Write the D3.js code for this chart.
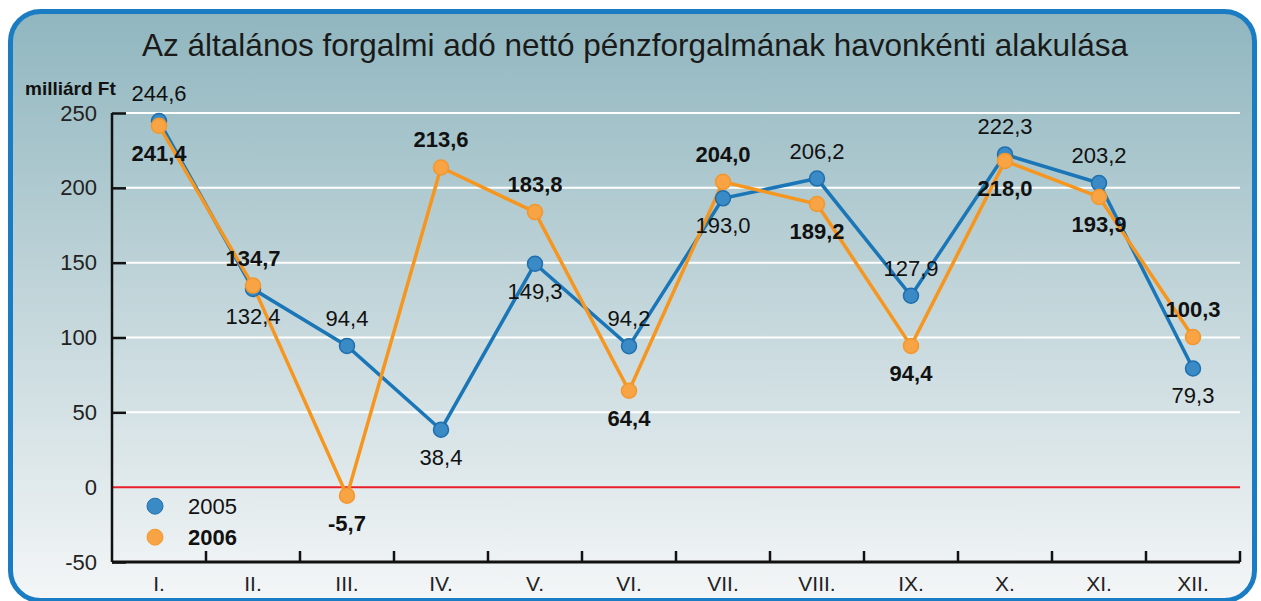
<!DOCTYPE html>
<html>
<head>
<meta charset="utf-8">
<script src="https://cdn.jsdelivr.net/npm/d3@7"></script>
<style>
  body { margin: 0; background: #fff; }
  svg { display: block; font-family: 'Liberation Sans', Arial, sans-serif; }
</style>
</head>
<body>
<div id="chart"></div>
<script>
// Monthly values (milliárd Ft)
const months = ['I.', 'II.', 'III.', 'IV.', 'V.', 'VI.', 'VII.', 'VIII.', 'IX.', 'X.', 'XI.', 'XII.']
const values2005 = [244.6, 132.4, 94.4, 38.4, 149.3, 94.2, 193.0, 206.2, 127.9, 222.3, 203.2, 79.3]
const values2006 = [241.4, 134.7, -5.7, 213.6, 183.8, 64.4, 204.0, 189.2, 94.4, 218.0, 193.9, 100.3]
const yTicks = [-50, 0, 50, 100, 150, 200, 250]
const seriesNames = ['2005', '2006']

const W = 1261
const H = 601
const margin = { top: 113, right: 21, bottom: 39, left: 112 }
const width = W - margin.left - margin.right
const height = H - margin.top - margin.bottom

const colors = {
  line2005: '#1a76b6', dot2005: '#3a8ac6', dotStroke2005: '#1f6fae',
  line2006: '#f7961f', dot2006: '#f9a444', dotStroke2006: '#f3972c'
}

const svg = d3.select('#chart').append('svg')
  .attr('width', W)
  .attr('height', H)

// Background gradient
const defs = svg.append('defs')
const grad = defs.append('linearGradient')
  .attr('id', 'bg').attr('x1', 0).attr('y1', 0).attr('x2', 0).attr('y2', 1)
grad.append('stop').attr('offset', '0%').attr('stop-color', '#90b6bf')
grad.append('stop').attr('offset', '45%').attr('stop-color', '#bed3d8')
grad.append('stop').attr('offset', '100%').attr('stop-color', '#f4f6f7')

svg.append('rect')
  .attr('x', 10.5).attr('y', 11.5)
  .attr('width', 1244).attr('height', 589)
  .attr('rx', 30).attr('ry', 30)
  .attr('fill', 'url(#bg)')
  .attr('stroke', '#1a7dc3')
  .attr('stroke-width', 5)

// Title
svg.append('text')
  .attr('x', 635).attr('y', 56)
  .attr('text-anchor', 'middle')
  .attr('font-size', 31.5)
  .attr('fill', '#1a1a1a')
  .text('Az általános forgalmi adó nettó pénzforgalmának havonkénti alakulása')

svg.append('text')
  .attr('x', 25).attr('y', 95)
  .attr('font-size', 19)
  .attr('font-weight', 'bold')
  .attr('fill', '#111')
  .text('milliárd Ft')

const g = svg.append('g')
  .attr('transform', `translate(${margin.left},${margin.top})`)

const x = d3.scaleBand().domain(months).range([0, width])
const y = d3.scaleLinear().domain([-50, 250]).range([height, 0])

// Gridlines
g.append('g')
  .selectAll('line')
  .data(yTicks.filter(t => t > 0))
  .enter().append('line')
  .attr('x1', 14).attr('x2', width)
  .attr('y1', d => y(d)).attr('y2', d => y(d))
  .attr('stroke', '#fff')
  .attr('stroke-width', 2)

// Zero line
g.append('line')
  .attr('x1', 0).attr('x2', width)
  .attr('y1', y(0)).attr('y2', y(0))
  .attr('stroke', '#e8202a')
  .attr('stroke-width', 2)

// Y axis
const yAxis = g.append('g')
  .call(d3.axisRight(y).tickValues(yTicks).tickSize(14).tickFormat(d => String(d).replace('−', '-')))
yAxis.select('.domain').attr('stroke', '#111').attr('stroke-width', 2.5).attr('d', `M0,0V${height}`)
yAxis.selectAll('.tick line').attr('stroke', '#111').attr('stroke-width', 2.5)
  .attr('display', d => d === 0 ? 'none' : null)
yAxis.selectAll('.tick text')
  .attr('x', -15).attr('text-anchor', 'end')
  .attr('font-size', 22).attr('fill', '#222')
  .attr('font-family', 'Liberation Sans, Arial, sans-serif')

// X axis
const xAxis = g.append('g')
  .attr('transform', `translate(0,${height})`)
  .call(d3.axisBottom(x).tickSize(0).tickPadding(14))
xAxis.select('.domain').attr('stroke', '#111').attr('stroke-width', 3).attr('d', `M0,0H${width}`)
xAxis.selectAll('.tick text')
  .attr('font-size', 21).attr('fill', '#222')
  .attr('font-family', 'Liberation Sans, Arial, sans-serif')
g.append('g')
  .selectAll('line')
  .data(months.slice(1).concat(['end']))
  .enter().append('line')
  .attr('x1', (d, i) => x.step() * (i + 1))
  .attr('x2', (d, i) => x.step() * (i + 1))
  .attr('y1', height).attr('y2', height - 11)
  .attr('stroke', '#111').attr('stroke-width', 2.5)

const cx = i => x(months[i]) + x.bandwidth() / 2
const line = d3.line().x((d, i) => cx(i)).y(d => y(d))

g.append('path').datum(values2005)
  .attr('d', line).attr('fill', 'none')
  .attr('stroke', colors.line2005).attr('stroke-width', 3.5)
g.append('path').datum(values2006)
  .attr('d', line).attr('fill', 'none')
  .attr('stroke', colors.line2006).attr('stroke-width', 3.5)

g.append('g').selectAll('circle').data(values2005)
  .enter().append('circle')
  .attr('cx', (d, i) => cx(i)).attr('cy', d => y(d)).attr('r', 7.5)
  .attr('fill', colors.dot2005).attr('stroke', colors.dotStroke2005).attr('stroke-width', 1.5)
g.append('g').selectAll('circle').data(values2006)
  .enter().append('circle')
  .attr('cx', (d, i) => cx(i)).attr('cy', d => y(d)).attr('r', 7.5)
  .attr('fill', colors.dot2006).attr('stroke', colors.dotStroke2006).attr('stroke-width', 1.5)

// Value labels: higher value of the month goes above, lower below
const fmt = v => d3.format('.1f')(v).replace('.', ',').replace('−', '-')
function labels (values, other, bold) {
  g.append('g').selectAll('text').data(values)
    .enter().append('text')
    .attr('x', (d, i) => cx(i))
    .attr('y', (d, i) => y(d) + (d >= other[i] ? -20 : 35))
    .attr('text-anchor', 'middle')
    .attr('font-size', 22)
    .attr('font-weight', bold ? 'bold' : 'normal')
    .attr('fill', '#111')
    .text(d => fmt(d))
}
labels(values2005, values2006, false)
labels(values2006, values2005, true)

// Legend
const legend = g.append('g').attr('transform', `translate(43,${y(0) + 19})`)
seriesNames.forEach((name, i) => {
  const row = legend.append('g').attr('transform', `translate(0,${i * 31})`)
  row.append('circle').attr('r', 8)
    .attr('fill', i === 0 ? colors.dot2005 : colors.dot2006)
    .attr('stroke', i === 0 ? colors.dotStroke2005 : colors.dotStroke2006)
  row.append('text').attr('x', 33).attr('y', 8)
    .attr('font-size', 22)
    .attr('font-weight', i === 0 ? 'normal' : 'bold')
    .attr('fill', '#111')
    .text(name)
})
</script>
</body>
</html>
